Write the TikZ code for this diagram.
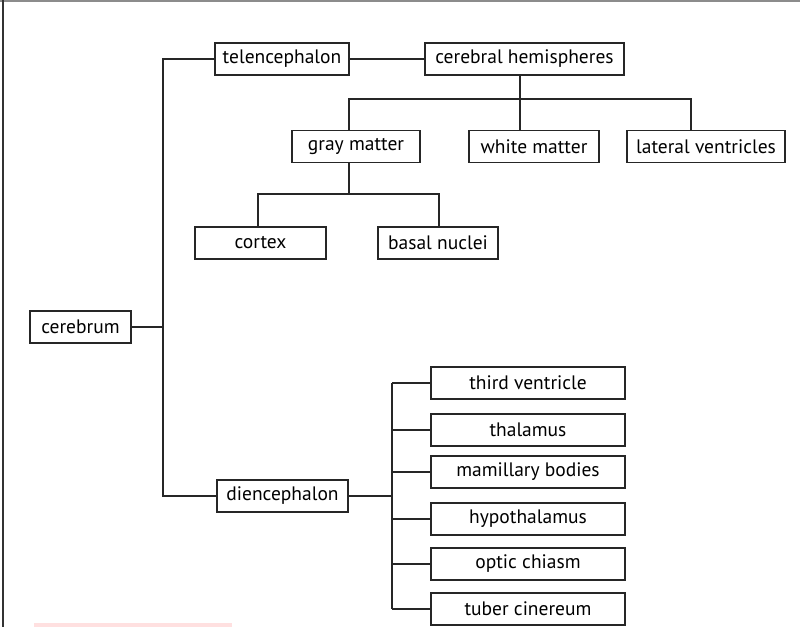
\documentclass[tikz,border=0pt]{standalone}
\usepackage{fontspec}
\setmainfont{PT Sans}
\usepackage{tikz}

\begin{document}
\begin{tikzpicture}[x=1pt,y=-1pt,line width=1.1pt,
  every node/.style={font=\fontsize{19.5}{22}\selectfont},
  box/.style={shape=rectangle,draw=black!85,minimum height=32pt,inner sep=0pt},
  link/.style={draw=black!85}]
\useasboundingbox (0,0) rectangle (800,627);
\draw[black!45,line width=1.4pt] (0,1) -- (800,1);
\draw[black!80,line width=1.2pt] (3,0) -- (3,627);
\fill[red!12] (34,623) rectangle (232,627);
\node[box,minimum width=101pt] (Cer) at (80.5,327) {cerebrum};
\node[box,minimum width=134pt] (Tel) at (282,59) {telencephalon};
\node[box,minimum width=131pt] (Die) at (282.5,496) {diencephalon};
\node[box,minimum width=199pt] (Hem) at (524.5,59) {cerebral hemispheres};
\node[box,minimum width=128pt] (Gray) at (356,146.5) {gray matter};
\node[box,minimum width=130pt] (White) at (534,146.5) {white matter};
\node[box,minimum width=158pt] (Lat) at (706,146.5) {lateral ventricles};
\node[box,minimum width=131pt] (Cor) at (260.5,243) {cortex};
\node[box,minimum width=120pt] (Bas) at (438,243) {basal nuclei};
\node[box,minimum width=194pt] (Thi) at (528,383) {third ventricle};
\node[box,minimum width=194pt] (Tha) at (528,430) {thalamus};
\node[box,minimum width=194pt] (Mam) at (528,472) {mamillary bodies};
\node[box,minimum width=194pt] (Hyp) at (528,519) {hypothalamus};
\node[box,minimum width=194pt] (Opt) at (528,564) {optic chiasm};
\node[box,minimum width=194pt] (Tub) at (528,609) {tuber cinereum};
% junction points
\coordinate (T) at (163,327);
\coordinate (H) at (520,99);
\coordinate (G1) at (349,99);
\coordinate (L1) at (691,99);
\coordinate (G) at (349,194);
\coordinate (C1) at (258,194);
\coordinate (B1) at (439,194);
\coordinate (D) at (392,496);
% cerebrum
\path [link] (Cer) edge (T);
\draw [link] (Tel.west) -| (T) |- (Die.west);
% telencephalon
\path [link] (Tel) edge (Hem);
\draw [link] (H |- Hem.south) -- (H |- White.north);
\draw [link] (G1 |- Gray.north) |- (L1) -- (L1 |- Lat.north);
\draw [link] (G1 |- Gray.south) -- (G);
\draw [link] (C1 |- Cor.north) |- (B1) -- (B1 |- Bas.north);
% diencephalon
\path [link] (Die) edge (D);
\draw [link] (D |- Thi) -- (D |- Tub);
\foreach \n in {Thi,Tha,Mam,Hyp,Opt,Tub}
  \draw [link] (D |- \n) -- (\n.west);
\end{tikzpicture}
\end{document}
